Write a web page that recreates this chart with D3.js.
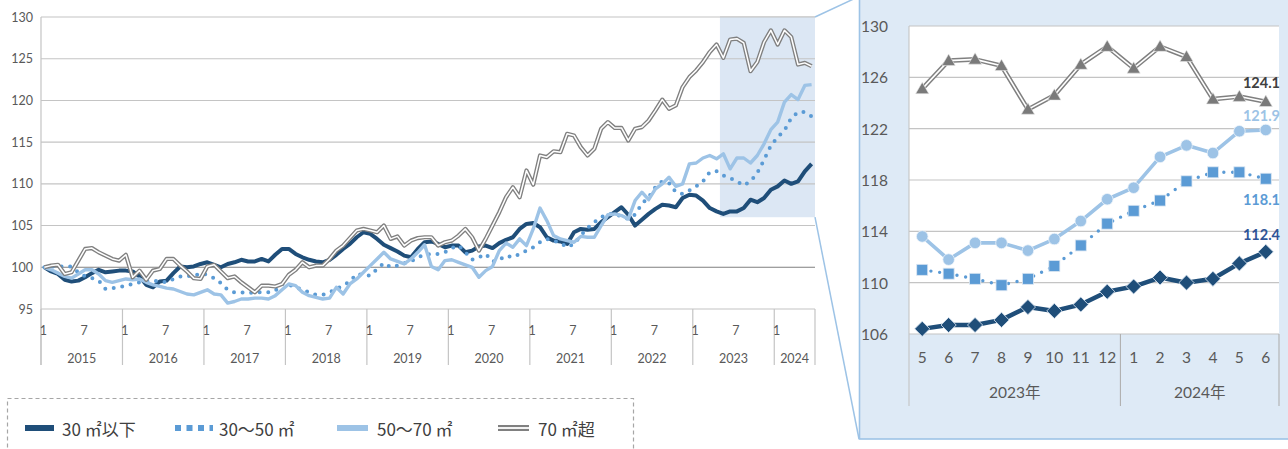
<!DOCTYPE html>
<html><head><meta charset="utf-8">
<script src="https://cdn.jsdelivr.net/npm/d3@7"></script>
<style>
body{margin:0;background:#fff;}
svg{display:block;}
</style></head><body>
<svg id="c" width="1288" height="449"></svg>
<script>
// ---------- data ----------
const yearLabels = ["2015","2016","2017","2018","2019","2020","2021","2022","2023","2024"];
const monthsInYear = [12,12,12,12,12,12,12,12,12,6];
const monthTickLabels = ["1","7"];
const yTicksMain = [95,100,105,110,115,120,125,130];
const seriesNames = ["30 ㎡以下","30～50 ㎡","50～70 ㎡","70 ㎡超"];

const s30under = [
100.0,99.5,99.2,98.5,98.3,98.4,98.8,99.3,99.7,99.4,99.5,99.6,
99.6,99.5,98.9,97.9,97.6,98.3,98.4,99.3,100.1,100.0,100.1,100.4,
100.6,100.3,100.0,100.4,100.6,100.9,100.7,100.7,101.0,100.7,101.5,102.2,
102.2,101.6,101.2,100.9,100.7,100.6,100.9,101.5,102.2,102.8,103.6,104.2,
104.0,103.4,102.7,102.3,101.9,101.4,101.2,102.2,103.0,103.1,102.8,102.4,
102.6,102.6,101.8,102.0,102.5,102.6,102.3,102.9,103.3,103.6,104.6,105.2,
105.3,104.8,103.6,103.2,103.1,102.8,104.2,104.6,104.5,104.6,105.4,106.0,
106.6,107.2,106.3,105.0,105.7,106.4,107.0,107.5,107.4,107.2,108.3,108.7,
108.6,108.0,107.1,106.7,106.4,106.7,106.7,107.1,108.1,107.8,108.3,109.3,
109.7,110.4,110.0,110.3,111.5,112.4];
const s30to50 = [
100.0,100.1,100.1,100.1,100.1,99.4,98.9,98.7,98.4,97.4,97.5,97.6,
97.8,98.0,98.2,98.3,98.4,98.3,98.2,98.6,98.9,99.0,98.9,99.3,
99.1,98.7,98.1,97.3,97.0,97.0,96.9,97.0,97.0,97.0,97.2,98.0,
97.9,97.6,97.3,97.0,96.7,96.7,97.0,97.4,97.8,98.3,99.2,99.1,
99.0,99.8,100.5,100.0,100.2,100.5,100.7,101.2,101.5,101.6,101.6,101.8,
102.3,102.6,101.8,100.9,101.2,101.6,100.7,100.9,101.4,101.2,101.6,102.0,
102.4,103.0,103.4,103.2,102.9,102.4,102.8,103.8,104.7,105.4,106.0,106.4,
106.4,106.1,105.8,106.3,107.6,108.4,109.6,110.3,110.1,109.0,108.8,109.2,
109.7,110.3,111.4,111.5,111.0,110.7,110.3,109.8,110.3,111.3,112.9,114.6,
115.6,116.4,117.9,118.6,118.6,118.1];
const s50to70 = [
100.0,99.7,99.3,98.9,98.7,99.2,99.7,99.7,99.2,98.4,98.2,98.4,
98.6,98.5,98.6,98.2,97.9,97.7,97.5,97.4,97.1,96.8,96.7,97.0,
97.3,96.8,96.7,95.7,95.9,96.2,96.2,96.3,96.3,96.2,96.6,97.3,
98.0,97.8,97.0,96.6,96.4,96.2,96.3,97.6,96.8,98.0,98.6,99.4,
100.2,101.0,101.8,101.0,100.7,100.4,101.0,101.8,102.7,100.1,99.7,100.8,
100.9,100.6,100.3,100.0,98.8,99.6,100.1,102.0,102.9,102.4,103.4,102.6,
104.6,107.1,105.6,103.8,103.4,103.2,103.0,103.7,103.6,103.6,105.0,106.3,
106.4,106.2,105.8,108.0,109.0,108.1,109.4,110.0,110.8,109.7,110.0,112.4,
112.5,113.1,113.4,113.0,113.6,111.8,113.1,113.1,112.5,113.4,114.8,116.5,
117.4,119.8,120.7,120.1,121.8,121.9];
const s70over = [
100.0,100.2,100.3,99.2,99.4,100.8,102.2,102.3,101.8,101.4,101.0,100.8,
101.5,98.8,99.6,98.5,99.6,99.8,101.0,101.0,100.2,99.5,98.7,98.6,
100.1,100.3,99.5,98.7,98.9,98.2,97.6,97.0,97.8,97.8,97.7,98.0,
99.1,99.7,100.6,100.0,100.2,100.2,101.0,102.0,102.6,103.5,104.4,104.6,
104.4,104.2,105.0,103.4,103.7,102.6,103.2,103.5,103.6,103.6,102.6,103.0,
103.2,103.8,104.6,103.6,102.0,103.4,105.0,106.6,108.4,109.6,108.4,111.6,
109.9,113.4,113.2,113.9,113.8,116.0,115.8,114.4,113.4,114.2,116.6,117.4,
116.7,116.7,115.2,116.6,116.8,117.6,118.8,120.1,119.0,119.4,121.6,122.8,
123.6,124.6,125.8,126.7,125.1,127.3,127.4,126.9,123.5,124.6,127.0,128.4,
126.7,128.4,127.6,124.3,124.5,124.1];

const zoomMonths = ["5","6","7","8","9","10","11","12","1","2","3","4","5","6"];
const zoomYearLabels = ["2023年","2024年"];
const zoomYearSpans = [8,6];
const yTicksZoom = [106,110,114,118,122,126,130];

// ---------- styles ----------
const COL = {dark:"#1f4e79", dot:"#5b9bd5", light:"#9dc3e6", gray:"#808080"};
const axisFont = "Lato, 'Noto Sans CJK JP', sans-serif";
const txt = "#595959";

const svg = d3.select("#c");
const cats = [];
yearLabels.forEach((y,yi)=>{ for(let m=1;m<=monthsInYear[yi];m++) cats.push({year:y, month:m}); });
const N = cats.length;

// ---------- main chart ----------
const xM = d3.scaleBand().domain(d3.range(N)).range([41,815]);
const cx = i => xM(i) + xM.bandwidth()/2;
const yM = d3.scaleLinear().domain([95,130]).range([309,17]);
const gM = svg.append("g");

gM.selectAll("line.grid").data(yTicksMain).join("line")
  .attr("x1",41).attr("x2",815).attr("y1",d=>yM(d)).attr("y2",d=>yM(d))
  .attr("stroke",d=>d===100?"#7f7f7f":"#c4c4c4").attr("stroke-width",1.1);
gM.selectAll("text.yl").data(yTicksMain).join("text")
  .attr("x",33).attr("y",d=>yM(d)).attr("text-anchor","end").attr("dominant-baseline","central")
  .attr("font-family",axisFont).attr("font-size",12.5).attr("fill",txt).text(d=>d);

const zStart = N - zoomMonths.length;
gM.append("rect").attr("x",xM(zStart)).attr("y",yM(130)).attr("width",815-xM(zStart))
  .attr("height",yM(106)-yM(130)).attr("fill","#dae6f3").attr("opacity",0.95);
gM.selectAll("line.grid2").data(yTicksMain.filter(d=>d>=106)).join("line")
  .attr("x1",xM(zStart)).attr("x2",815).attr("y1",d=>yM(d)).attr("y2",d=>yM(d))
  .attr("stroke","#c4c4c4").attr("stroke-width",1.1);

gM.append("line").attr("x1",41).attr("x2",41).attr("y1",17).attr("y2",365).attr("stroke","#c4c4c4").attr("stroke-width",1.2);
const yearStarts = [];
let acc = 0; monthsInYear.forEach(n=>{ yearStarts.push(acc); acc+=n; });
gM.selectAll("line.ysep").data(yearStarts.concat([N])).join("line")
  .attr("x1",d=>d<N?xM(d):815).attr("x2",d=>d<N?xM(d):815).attr("y1",309).attr("y2",365)
  .attr("stroke","#c4c4c4").attr("stroke-width",1.2);
gM.selectAll("text.ml").data(cats.map((c,i)=>({c,i})).filter(d=>monthTickLabels.includes(String(d.c.month)))).join("text")
  .attr("x",d=>cx(d.i)-1).attr("y",330).attr("text-anchor","middle").attr("dominant-baseline","central")
  .attr("font-family",axisFont).attr("font-size",12.5).attr("fill",txt).text(d=>d.c.month);
gM.selectAll("text.yr").data(yearLabels).join("text")
  .attr("x",(d,i)=>{const a=xM(yearStarts[i]); const b= i<yearLabels.length-1?xM(yearStarts[i+1]):815; return (a+b)/2;})
  .attr("y",358).attr("text-anchor","middle").attr("dominant-baseline","central")
  .attr("font-family",axisFont).attr("font-size",12.5).attr("fill",txt).text(d=>d);

const lineM = d3.line().x((d,i)=>cx(i)).y(d=>yM(d));
function drawSeries(g, line, data, type){
  if(type==="dark"){
    g.append("path").attr("d",line(data)).attr("fill","none").attr("stroke",COL.dark).attr("stroke-width",4).attr("stroke-linejoin","round");
  } else if(type==="dot"){
    g.append("path").attr("d",line(data)).attr("fill","none").attr("stroke",COL.dot).attr("stroke-width",4)
      .attr("stroke-dasharray","0 8.6").attr("stroke-linecap","round");
  } else if(type==="light"){
    g.append("path").attr("d",line(data)).attr("fill","none").attr("stroke",COL.light).attr("stroke-width",3.4).attr("stroke-linejoin","round");
  } else {
    g.append("path").attr("d",line(data)).attr("fill","none").attr("stroke",COL.gray).attr("stroke-width",4.2).attr("stroke-linejoin","round");
    g.append("path").attr("d",line(data)).attr("fill","none").attr("stroke","#ffffff").attr("stroke-width",1.5).attr("stroke-linejoin","round");
  }
}
drawSeries(gM, lineM, s30under, "dark");
drawSeries(gM, lineM, s30to50, "dot");
drawSeries(gM, lineM, s50to70, "light");
drawSeries(gM, lineM, s70over, "gray");

// ---------- connector + zoom panel ----------
const gZ = svg.append("g");
gZ.append("line").attr("x1",815).attr("y1",yM(130)).attr("x2",860).attr("y2",-4).attr("stroke","#9dc3e6").attr("stroke-width",1.5);
gZ.append("line").attr("x1",815).attr("y1",yM(106)).attr("x2",859).attr("y2",439).attr("stroke","#9dc3e6").attr("stroke-width",1.5);
gZ.append("rect").attr("x",859.5).attr("y",-5).attr("width",440).attr("height",444)
  .attr("fill","#deeaf6").attr("stroke","#9dc3e6").attr("stroke-width",1.6);

const xZ = d3.scaleBand().domain(d3.range(zoomMonths.length)).range([909,1279]);
const zx = i => xZ(i) + xZ.bandwidth()/2;
const yZ = d3.scaleLinear().domain([106,130]).range([334,26]);
gZ.append("rect").attr("x",909).attr("y",26).attr("width",370).attr("height",308).attr("fill","#ffffff");
gZ.selectAll("line.zg").data(yTicksZoom).join("line")
  .attr("x1",909).attr("x2",1279).attr("y1",d=>yZ(d)).attr("y2",d=>yZ(d))
  .attr("stroke","#c4c4c4").attr("stroke-width",1.1);
gZ.selectAll("text.zy").data(yTicksZoom).join("text")
  .attr("x",888).attr("y",d=>yZ(d)).attr("text-anchor","end").attr("dominant-baseline","central")
  .attr("font-family",axisFont).attr("font-size",15.5).attr("fill",txt).text(d=>d);
gZ.append("line").attr("x1",909).attr("x2",909).attr("y1",26).attr("y2",406).attr("stroke","#c4c4c4").attr("stroke-width",1.1);
const zSeps = [0, zoomYearSpans[0], zoomMonths.length];
gZ.selectAll("line.zs").data(zSeps.slice(1)).join("line")
  .attr("x1",d=>d<zoomMonths.length?xZ(d):1279).attr("x2",d=>d<zoomMonths.length?xZ(d):1279)
  .attr("y1",334).attr("y2",406).attr("stroke","#b0b0b0").attr("stroke-width",1.1);
gZ.selectAll("text.zm").data(zoomMonths).join("text")
  .attr("x",(d,i)=>zx(i)).attr("y",357).attr("text-anchor","middle").attr("dominant-baseline","central")
  .attr("font-family",axisFont).attr("font-size",15.5).attr("fill",txt).text(d=>d);
gZ.selectAll("text.zyr").data(zoomYearLabels).join("text")
  .attr("x",(d,i)=>{const a=xZ(zSeps[i]); const b=zSeps[i+1]<zoomMonths.length?xZ(zSeps[i+1]):1279; return (a+b)/2;})
  .attr("y",392).attr("text-anchor","middle").attr("dominant-baseline","central")
  .attr("font-family",axisFont).attr("font-size",15.5).attr("fill",txt).text(d=>d);

const lineZ = d3.line().x((d,i)=>zx(i)).y(d=>yZ(d));
const z1 = s30under.slice(zStart), z2 = s30to50.slice(zStart), z3 = s50to70.slice(zStart), z4 = s70over.slice(zStart);
gZ.append("path").attr("d",lineZ(z1)).attr("fill","none").attr("stroke",COL.dark).attr("stroke-width",4.5).attr("stroke-linejoin","round");
gZ.selectAll("path.dm").data(z1).join("path")
  .attr("d",d3.symbol(d3.symbolSquare, 115)())
  .attr("transform",(d,i)=>`translate(${zx(i)},${yZ(d)}) rotate(45)`)
  .attr("fill",COL.dark).attr("stroke","#dbe6f2").attr("stroke-width",0.8);
gZ.append("path").attr("d",lineZ(z2)).attr("fill","none").attr("stroke",COL.dot).attr("stroke-width",3.4)
  .attr("stroke-dasharray","0 8.8").attr("stroke-linecap","round");
gZ.selectAll("rect.sq").data(z2).join("rect")
  .attr("x",(d,i)=>zx(i)-5.5).attr("y",d=>yZ(d)-5.5).attr("width",11).attr("height",11)
  .attr("fill",COL.dot).attr("stroke","#dbe6f2").attr("stroke-width",0.8);
gZ.append("path").attr("d",lineZ(z3)).attr("fill","none").attr("stroke",COL.light).attr("stroke-width",3.6).attr("stroke-linejoin","round");
gZ.selectAll("circle.lc").data(z3).join("circle")
  .attr("cx",(d,i)=>zx(i)).attr("cy",d=>yZ(d)).attr("r",5.8)
  .attr("fill",COL.light).attr("stroke","#eef4fa").attr("stroke-width",0.8);
gZ.append("path").attr("d",lineZ(z4)).attr("fill","none").attr("stroke",COL.gray).attr("stroke-width",4.6).attr("stroke-linejoin","round");
gZ.append("path").attr("d",lineZ(z4)).attr("fill","none").attr("stroke","#ffffff").attr("stroke-width",1.6).attr("stroke-linejoin","round");
gZ.selectAll("path.tr").data(z4).join("path")
  .attr("d",d3.symbol(d3.symbolTriangle, 75)())
  .attr("transform",(d,i)=>`translate(${zx(i)},${yZ(d)+1})`)
  .attr("fill","#7a7a7a").attr("stroke","#e8e8e8").attr("stroke-width",0.6);

const last = zoomMonths.length-1;
const endLabels = [
  {v:z4[last], color:"#404040", dy:-14},
  {v:z3[last], color:"#9dc3e6", dy:-9},
  {v:z2[last], color:"#5b9bd5", dy:26},
  {v:z1[last], color:"#2f5597", dy:-12}
];
gZ.selectAll("text.el").data(endLabels).join("text")
  .attr("x",1280).attr("y",d=>yZ(d.v)+d.dy).attr("text-anchor","end")
  .attr("font-family",axisFont).attr("font-weight","bold").attr("font-size",14.5)
  .attr("fill",d=>d.color).text(d=>d.v.toFixed(1));

// ---------- legend ----------
const gL = svg.append("g");
gL.append("rect").attr("x",7.5).attr("y",398.5).attr("width",626).attr("height",60)
  .attr("fill","#fff").attr("stroke","#a6a6a6").attr("stroke-width",1.2).attr("stroke-dasharray","4 3");
const legX = [25,175,337,498];
const ly = 428;
seriesNames.forEach((name,k)=>{
  const x0 = legX[k];
  if(k===0){
    gL.append("line").attr("x1",x0).attr("x2",x0+29).attr("y1",ly).attr("y2",ly).attr("stroke",COL.dark).attr("stroke-width",6);
  } else if(k===1){
    gL.append("line").attr("x1",x0).attr("x2",x0+38).attr("y1",ly).attr("y2",ly).attr("stroke",COL.dot).attr("stroke-width",6).attr("stroke-dasharray","6 5.5");
  } else if(k===2){
    gL.append("line").attr("x1",x0).attr("x2",x0+31).attr("y1",ly).attr("y2",ly).attr("stroke",COL.light).attr("stroke-width",6);
  } else {
    gL.append("line").attr("x1",x0).attr("x2",x0+31).attr("y1",ly).attr("y2",ly).attr("stroke",COL.gray).attr("stroke-width",6);
    gL.append("line").attr("x1",x0).attr("x2",x0+31).attr("y1",ly).attr("y2",ly).attr("stroke","#fff").attr("stroke-width",1.8);
  }
  gL.append("text").attr("x",k===1?x0+44:x0+(k===0?37:40)).attr("y",ly).attr("dominant-baseline","central")
    .attr("font-family","'Noto Sans CJK JP', sans-serif").attr("font-size",17).attr("fill","#404040").text(name);
});
</script>
</body></html>
